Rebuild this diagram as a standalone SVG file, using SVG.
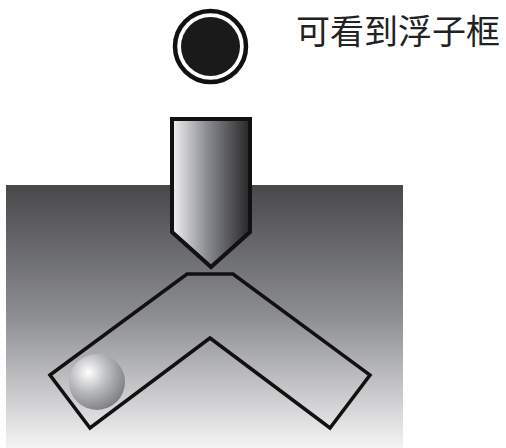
<svg xmlns="http://www.w3.org/2000/svg" width="506" height="448" viewBox="0 0 506 448">
  <defs>
    <linearGradient id="bgGrad" x1="0" y1="0" x2="0" y2="1">
      <stop offset="0" stop-color="#48484b"/>
      <stop offset="0.5" stop-color="#8d8e92"/>
      <stop offset="1" stop-color="#f4f4f5"/>
    </linearGradient>
    <linearGradient id="probeGrad" x1="0" y1="0" x2="1" y2="0">
      <stop offset="0" stop-color="#f2f2f4"/>
      <stop offset="0.45" stop-color="#8a8b90"/>
      <stop offset="1" stop-color="#262628"/>
    </linearGradient>
    <radialGradient id="ballGrad" cx="0.35" cy="0.33" r="0.7">
      <stop offset="0" stop-color="#ffffff"/>
      <stop offset="0.5" stop-color="#b9babd"/>
      <stop offset="1" stop-color="#808185"/>
    </radialGradient>
  </defs>
  <style>
    .outline { fill: none; stroke: #111; stroke-width: 3.5; stroke-linejoin: miter; }
    .label { font-family: "Noto Sans CJK SC", "Noto Sans", sans-serif; font-size: 34px; fill: #222; }
  </style>

  <!-- background block -->
  <g id="block">
    <rect x="6" y="185" width="397" height="263" fill="url(#bgGrad)"/>
  </g>

  <!-- Y-shaped channel -->
  <g id="channel">
    <polygon class="outline" points="50,375 187,274 233,274 370,375 330,428 210,338 90,428"/>
  </g>

  <!-- float ball -->
  <g id="ball">
    <circle cx="97" cy="382" r="28" fill="url(#ballGrad)"/>
  </g>

  <!-- probe -->
  <g id="probe">
    <polygon points="172,119 250,119 250,232 211,267 172,232" fill="url(#probeGrad)" stroke="#111" stroke-width="4" stroke-linejoin="miter"/>
  </g>

  <!-- view marker -->
  <g id="viewer">
    <circle cx="210.5" cy="46.5" r="35.5" fill="#fff" stroke="#111" stroke-width="4.5"/>
    <circle cx="210.5" cy="46.5" r="29.5" fill="#1b1a1b"/>
  </g>

  <g id="caption">
    <text class="label" x="296" y="44">可看到浮子框</text>
  </g>
</svg>
